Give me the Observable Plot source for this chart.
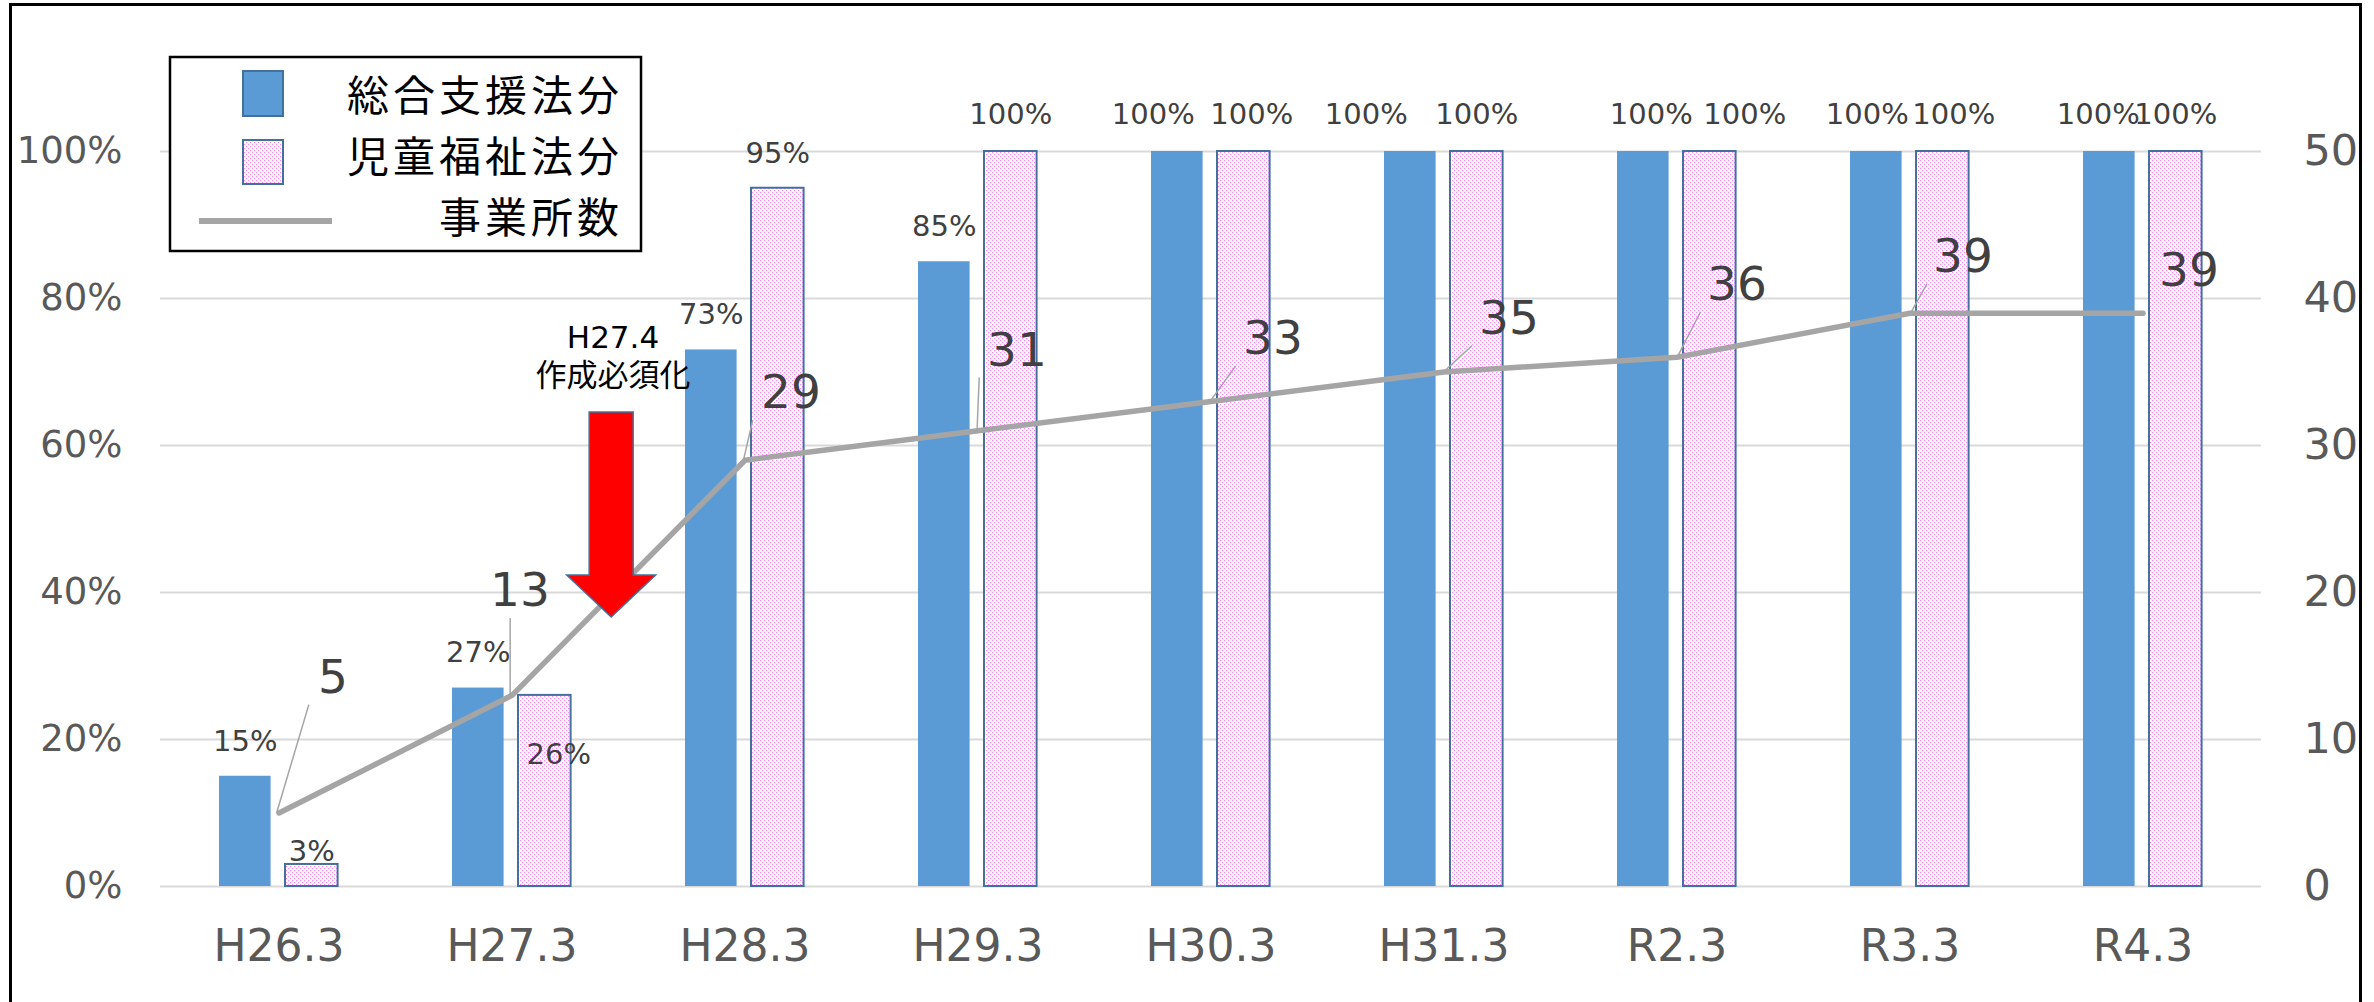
<!DOCTYPE html>
<html lang="ja">
<head>
<meta charset="utf-8">
<title>事業所数と作成率の推移</title>
<script src="https://cdn.jsdelivr.net/npm/d3@7"></script>
<script src="https://cdn.jsdelivr.net/npm/@observablehq/plot@0.6"></script>
<style>
  html, body { margin: 0; padding: 0; background: #fff; overflow: hidden; }
  #wrap { position: relative; width: 2374px; height: 1002px; }
  #legend-text { position: absolute; left: 0; top: 62px; width: 623px; text-align: right;
                 font-family: 'Noto Sans CJK JP', sans-serif; font-size: 42px; line-height: 61px;
                 letter-spacing: 4px; color: #000; }
  #legend-text div { white-space: nowrap; }
  #frame { position: absolute; left: 9px; top: 3px; width: 2353px; height: 1010px;
           border: 3px solid #000; border-bottom: none; box-sizing: border-box; pointer-events: none; }
</style>
</head>
<body>
<div id="wrap"><div id="chart"></div><div id="legend-text"></div><div id="frame"></div></div>
<script>
// ---- data ----
const categories  = ["H26.3", "H27.3", "H28.3", "H29.3", "H30.3", "H31.3", "R2.3", "R3.3", "R4.3"];
const sogoShien   = [15, 27, 73, 85, 100, 100, 100, 100, 100];   // 総合支援法分 (%)
const jidoFukushi = [3, 26, 95, 100, 100, 100, 100, 100, 100];   // 児童福祉法分 (%)
const jigyoshoSu  = [5, 13, 29, 31, 33, 35, 36, 39, 39];          // 事業所数
const leftTicks   = [0, 20, 40, 60, 80, 100];                     // %
const rightTicks  = [0, 10, 20, 30, 40, 50];                      // 事業所数
const seriesNames = ["総合支援法分", "児童福祉法分", "事業所数"];
const noteLines   = ["H27.4", "作成必須化"];
const noteAfter   = "H27.3";                                      // note sits just after this period

// ---- layout & style ----
const W = 2374, H = 1002;
const M = {top: 151, right: 113, bottom: 116, left: 160};
const countMax = rightTicks[rightTicks.length - 1];
const BLUE = "#5B9BD5", EDGE = "#41719C", LINE = "#A5A5A5", GRID = "#D9D9D9";
const AXIS_TXT = "#595959", LABEL_TXT = "#404040";
const NUM_FONT = "'DejaVu Sans', 'Noto Sans CJK JP', sans-serif";

// bar placement inside each band (px)
const blueInset = {left: 57, right: 124.4};
const pinkInset = {left: 123, right: 57.4};
const blueShift = (blueInset.left - blueInset.right) / 2;
const pinkShift = (pinkInset.left - pinkInset.right) / 2;

// hand-placed data labels (px nudges)
const pctNudge = {
  "jido|H26.3": {dy: -13},
  "jido|H27.3": {dx: 14, dy: 59},
  "sogo|H30.3": {dx: -24}, "jido|H30.3": {dx: 8},
  "sogo|H31.3": {dx: -44},
  "sogo|R2.3": {dx: 8}, "jido|R2.3": {dx: 35},
  "sogo|R3.3": {dx: -9}, "jido|R3.3": {dx: 11},
  "sogo|R4.3": {dx: -11}
};
const countLabelShift = [[54, -135], [8, -104], [46, -67], [39, -80], [62, -62], [65, -53], [60, -72], [53, -56], [46, -42]];
const COUNT_FONT = 47;

const rows = categories.map((c, i) => ({
  cat: c, sogo: sogoShien[i] / 100, jido: jidoFukushi[i] / 100, count: jigyoshoSu[i]
}));

const pctMarks = [];
rows.forEach(r => {
  [["sogo", blueShift], ["jido", pinkShift]].forEach(([key, shift]) => {
    const n = pctNudge[`${key}|${r.cat}`] || {};
    const v = r[key];
    pctMarks.push(Plot.text([r], {
      x: "cat", y: key, text: () => `${Math.round(v * 100)}%`,
      dx: shift + (n.dx || 0), dy: n.dy != null ? n.dy : (v >= 1 ? -37 : -35),
      fontSize: 29, fill: LABEL_TXT, lineAnchor: "middle"
    }));
  });
});

const countMarks = rows.map((r, i) => Plot.text([r], {
  x: "cat", y: d => d.count / countMax, text: d => String(d.count),
  dx: countLabelShift[i][0], dy: countLabelShift[i][1],
  fontSize: COUNT_FONT, fill: LABEL_TXT, lineAnchor: "middle"
}));

const chart = Plot.plot({
  width: W, height: H,
  marginTop: M.top, marginRight: M.right, marginBottom: M.bottom, marginLeft: M.left,
  style: {fontFamily: NUM_FONT, background: "#fff", overflow: "visible"},
  x: {domain: categories, padding: 0, axis: null},
  y: {domain: [0, 1], axis: null},
  marks: [
    Plot.ruleY(leftTicks.map(t => t / 100), {stroke: GRID, strokeWidth: 2}),
    // left axis (%)
    Plot.text(leftTicks, {y: d => d / 100, text: d => `${d}%`, frameAnchor: "left", dx: -38,
      textAnchor: "end", lineAnchor: "middle", fontSize: 37, fill: AXIS_TXT}),
    // right axis (事業所数)
    Plot.text(rightTicks, {y: d => d / countMax, text: d => String(d), frameAnchor: "right", dx: 42,
      textAnchor: "start", lineAnchor: "middle", fontSize: 43, fill: AXIS_TXT}),
    // category axis
    Plot.text(categories, {x: d => d, text: d => d, frameAnchor: "bottom", dy: 60,
      lineAnchor: "middle", fontSize: 44, fill: AXIS_TXT}),
    Plot.barY(rows, {x: "cat", y: "sogo", fill: BLUE, insetLeft: blueInset.left, insetRight: blueInset.right}),
    Plot.barY(rows, {x: "cat", y: "jido", fill: "url(#pinkDots)", stroke: EDGE, strokeWidth: 2,
      insetLeft: pinkInset.left, insetRight: pinkInset.right}),
    Plot.line(rows, {x: "cat", y: d => d.count / countMax, stroke: LINE, strokeWidth: 5.5,
      strokeLinejoin: "round", strokeLinecap: "round"}),
    ...pctMarks,
    ...countMarks,
    // two-line note above the arrow
    Plot.text([noteLines.join("\n")], {x: () => noteAfter, y: () => 0.724, text: d => d, dx: 101,
      fontSize: 31, lineHeight: 38 / 31, fill: "#000", lineAnchor: "middle"})
  ]
});

document.getElementById("chart").appendChild(chart);
const svgEl = chart.tagName.toLowerCase() === "svg" ? chart : chart.querySelector("svg");
const svg = d3.select(svgEl);

// dotted pink fill
const defs = svg.insert("defs", ":first-child");
const pat = defs.append("pattern").attr("id", "pinkDots").attr("patternUnits", "userSpaceOnUse")
  .attr("width", 4).attr("height", 4);
pat.append("rect").attr("width", 4).attr("height", 4).attr("fill", "#fff");
pat.append("rect").attr("x", 0).attr("y", 0).attr("width", 1.2).attr("height", 1.2).attr("fill", "#FF88FF");
pat.append("rect").attr("x", 2).attr("y", 2).attr("width", 1.2).attr("height", 1.2).attr("fill", "#FF88FF");

// scale helpers (band centre / linear y)
const xs = d3.scaleBand(categories, [M.left, W - M.right]).padding(0);
const ys = d3.scaleLinear([0, 1], [H - M.bottom, M.top]);
const xc = c => xs(c) + xs.bandwidth() / 2;

// leader lines from each count point to its label
const leaders = svg.append("g").attr("fill", "none").attr("stroke", LINE).attr("stroke-width", 1.5);
rows.forEach((r, i) => {
  const px = xc(r.cat), py = ys(r.count / countMax);
  const cx = px + countLabelShift[i][0], cy = py + countLabelShift[i][1];
  const digits = String(r.count).length;
  const hw = (digits * 0.636 - 0.13) * COUNT_FONT / 2 + 10;
  const hh = 0.365 * COUNT_FONT + 10;
  const ex = Math.max(cx - hw, Math.min(px, cx + hw));
  const ey = Math.max(cy - hh, Math.min(py, cy + hh));
  if (Math.hypot(ex - px, ey - py) < 30) return;
  leaders.append("line").attr("x1", px).attr("y1", py).attr("x2", ex).attr("y2", ey);
});

// block arrow marking the rule change
const ax = xc(noteAfter) + 101;
const aTop = ys(0.645), aNeck = ys(0.423), aTip = ys(0.366);
const sw = 22, hw2 = 44.5;
svg.append("path")
  .attr("d", `M${ax - sw},${aTop}H${ax + sw}V${aNeck}H${ax + hw2}L${ax},${aTip}L${ax - hw2},${aNeck}H${ax - sw}Z`)
  .attr("fill", "#FF0000").attr("stroke", EDGE).attr("stroke-width", 1.5).attr("stroke-linejoin", "miter");

// legend box and keys
const lg = svg.append("g");
lg.append("rect").attr("x", 170).attr("y", 57).attr("width", 471).attr("height", 194)
  .attr("fill", "#fff").attr("stroke", "#000").attr("stroke-width", 2.5);
lg.append("rect").attr("x", 243).attr("y", 71).attr("width", 40).attr("height", 45)
  .attr("fill", BLUE).attr("stroke", EDGE).attr("stroke-width", 2);
lg.append("rect").attr("x", 243).attr("y", 140).attr("width", 40).attr("height", 44)
  .attr("fill", "url(#pinkDots)").attr("stroke", EDGE).attr("stroke-width", 2);
lg.append("line").attr("x1", 199).attr("x2", 332).attr("y1", 221).attr("y2", 221)
  .attr("stroke", LINE).attr("stroke-width", 6);

// legend names
const legendText = document.getElementById("legend-text");
seriesNames.forEach(name => {
  const row = document.createElement("div");
  row.textContent = name;
  legendText.appendChild(row);
});
</script>
</body>
</html>
